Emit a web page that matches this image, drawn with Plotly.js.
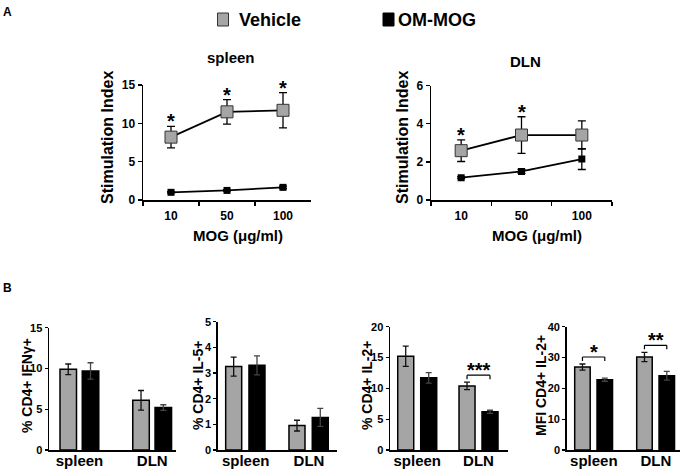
<!DOCTYPE html>
<html><head><meta charset="utf-8">
<script src="https://cdn.plot.ly/plotly-3.0.1.min.js"></script>
<style>html,body{margin:0;padding:0;background:#fff}#chart{width:683px;height:470px}</style>
</head><body><div id="chart"></div>
<script>
// ---------- data ----------
const doses = ['10', '50', '100'];
const spleenVehicle = [8.2, 11.5, 11.7];
const spleenVehicleErr = [1.4, 1.6, 2.3];
const spleenOM = [1.0, 1.25, 1.65];
const spleenOMErr = [0.1, 0.1, 0.15];
const spleenSig = ['*', '*', '*'];
const dlnVehicle = [2.59, 3.41, 3.41];
const dlnVehicleErr = [0.57, 0.96, 0.74];
const dlnOM = [1.17, 1.5, 2.15];
const dlnOMErr = [0.05, 0.1, 0.55];
const dlnSig = ['*', '*', ''];

const tissues = ['spleen', 'DLN'];
const ifngVehicle = [9.9, 6.1];
const ifngVehicleErr = [0.65, 1.2];
const ifngOM = [9.7, 5.2];
const ifngOMErr = [1.0, 0.35];
const ifngSig = ['', ''];
const il5Vehicle = [3.25, 0.95];
const il5VehicleErr = [0.37, 0.21];
const il5OM = [3.3, 1.27];
const il5OMErr = [0.37, 0.35];
const il5Sig = ['', ''];
const il2Vehicle = [15.2, 10.4];
const il2VehicleErr = [1.65, 0.6];
const il2OM = [11.7, 6.2];
const il2OMErr = [0.85, 0.25];
const il2Sig = ['', '***'];
const mfiVehicle = [26.9, 30.2];
const mfiVehicleErr = [1.0, 1.5];
const mfiOM = [22.8, 24.1];
const mfiOMErr = [0.5, 1.4];
const mfiSig = ['*', '**'];

const seriesNames = ['Vehicle', 'OM-MOG'];
const lineTitles = ['spleen', 'DLN'];
const lineYTitle = 'Stimulation Index';
const lineXTitle = 'MOG (μg/ml)';
const barYTitles = ['% CD4+ IFNγ+', '% CD4+ IL-5+', '% CD4+ IL-2+', 'MFI CD4+ IL-2+'];
const panelLetters = ['A', 'B'];

// ---------- styling / layout helpers ----------
const W = 683, H = 470;
const px = x => x / W, py = y => 1 - y / H;
const FONT = 'Liberation Sans, Arial, sans-serif';
const GREY = '#a5a5a5';
const BLACK = '#000';

const traces = [];
const annotations = [];
const shapes = [];
const layout = {
  width: W, height: H, margin: {l: 0, r: 0, t: 0, b: 0},
  paper_bgcolor: '#fff', plot_bgcolor: 'rgba(0,0,0,0)',
  showlegend: false, barmode: 'overlay', hovermode: false,
  font: {family: FONT, color: BLACK},
  annotations, shapes
};

function bold(t) { return '<b>' + t + '</b>'; }

// ---------- top line panels ----------
const linePanels = [
  {veh: spleenVehicle, vehErr: spleenVehicleErr, om: spleenOM, omErr: spleenOMErr, sig: spleenSig,
   xd: [143, 311], yd: [200, 85], range: [0, 15], dtick: 5, title: lineTitles[0], titleY: 58,
   yTitleX: 107, xTitleX: 238},
  {veh: dlnVehicle, vehErr: dlnVehicleErr, om: dlnOM, omErr: dlnOMErr, sig: dlnSig,
   xd: [431, 612], yd: [200, 85.7], range: [0, 6], dtick: 2, title: lineTitles[1], titleY: 61,
   yTitleX: 402, xTitleX: 537}
];
linePanels.forEach((p, i) => {
  const n = i + 1, xa = 'x' + (n === 1 ? '' : n), ya = 'y' + (n === 1 ? '' : n);
  const errStyle = {type: 'data', visible: true, color: BLACK, thickness: 1.3, width: 4};
  traces.push({type: 'scatter', mode: 'lines+markers', x: doses, y: p.om, xaxis: xa, yaxis: ya,
    error_y: Object.assign({array: p.omErr}, errStyle),
    line: {color: BLACK, width: 1.8}, marker: {symbol: 'square', size: 7, color: BLACK}, name: seriesNames[1]});
  traces.push({type: 'scatter', mode: 'lines+markers', x: doses, y: p.veh, xaxis: xa, yaxis: ya,
    error_y: Object.assign({array: p.vehErr}, errStyle),
    line: {color: BLACK, width: 1.8}, marker: {symbol: 'square', size: 12, color: GREY, line: {color: '#333', width: 1}}, name: seriesNames[0]});
  layout['xaxis' + (n === 1 ? '' : n)] = {
    domain: [px(p.xd[0]), px(p.xd[1])], anchor: ya, type: 'category', range: [-0.5, 2.5],
    showline: true, linecolor: BLACK, linewidth: 1.5, ticks: 'outside', tickson: 'boundaries',
    ticklen: 4, tickwidth: 1.3, tickcolor: BLACK, showgrid: false, zeroline: false, ticklabelstandoff: 4,
    tickfont: {family: FONT, size: 12, color: BLACK, weight: 'bold'}
  };
  layout['yaxis' + (n === 1 ? '' : n)] = {
    domain: [py(p.yd[0]), py(p.yd[1])], anchor: xa, range: p.range, dtick: p.dtick,
    showline: true, linecolor: BLACK, linewidth: 1.5, ticks: 'outside', ticklen: 4, tickwidth: 1.3,
    tickcolor: BLACK, showgrid: false, zeroline: false,
    tickfont: {family: FONT, size: 12, color: BLACK, weight: 'bold'}
  };
  p.sig.forEach((s, k) => {
    if (!s) return;
    annotations.push({xref: xa, yref: ya, x: k, y: p.veh[k] + p.vehErr[k], text: bold(s),
      showarrow: false, yanchor: 'middle', yshift: 5, font: {size: 20, family: FONT}});
  });
  annotations.push({xref: 'paper', yref: 'paper', x: px((p.xd[0] + p.xd[1]) / 2 + 4), y: py(p.titleY),
    text: bold(p.title), showarrow: false, xanchor: 'center', yanchor: 'middle', font: {size: 15, family: FONT}});
  annotations.push({xref: 'paper', yref: 'paper', x: px(p.yTitleX), y: py(138), text: bold(lineYTitle),
    textangle: -90, showarrow: false, xanchor: 'center', yanchor: 'middle', font: {size: 16, family: FONT}});
  annotations.push({xref: 'paper', yref: 'paper', x: px(p.xTitleX), y: py(236), text: bold(lineXTitle),
    showarrow: false, xanchor: 'center', yanchor: 'middle', font: {size: 15, family: FONT}});
});

// ---------- bottom bar panels ----------
const barPanels = [
  {veh: ifngVehicle, vehErr: ifngVehicleErr, om: ifngOM, omErr: ifngOMErr, sig: ifngSig,
   xd: [49, 176], ytop: 327.7, range: [0, 15], dtick: 5, xr: [-0.419, 1.326], w: 0.227, vo: -0.268, oo: 0.038, titleX: 27},
  {veh: il5Vehicle, vehErr: il5VehicleErr, om: il5OM, omErr: il5OMErr, sig: il5Sig,
   xd: [217.7, 336.7], ytop: 321.7, range: [0, 5], dtick: 1, xr: [-0.442, 1.438], w: 0.253, vo: -0.316, oo: 0.052, titleX: 198},
  {veh: il2Vehicle, vehErr: il2VehicleErr, om: il2OM, omErr: il2OMErr, sig: il2Sig,
   xd: [390, 508], ytop: 326.7, range: [0, 20], dtick: 5, xr: [-0.444, 1.481], w: 0.261, vo: -0.318, oo: 0.057, titleX: 367},
  {veh: mfiVehicle, vehErr: mfiVehicleErr, om: mfiOM, omErr: mfiOMErr, sig: mfiSig,
   xd: [566.7, 680], ytop: 326.7, range: [0, 40], dtick: 10, xr: [-0.437, 1.39], w: 0.25, vo: -0.308, oo: 0.052, titleX: 541}
];
barPanels.forEach((p, i) => {
  const n = i + 3, xa = 'x' + n, ya = 'y' + n;
  const errStyle = {type: 'data', visible: true, color: '#111', thickness: 1.3, width: 3};
  traces.push({type: 'bar', x: tissues, y: p.veh, xaxis: xa, yaxis: ya, width: p.w, offset: p.vo,
    marker: {color: GREY, line: {color: BLACK, width: 1.5}}, error_y: Object.assign({array: p.vehErr}, errStyle), name: seriesNames[0]});
  traces.push({type: 'bar', x: tissues, y: p.om, xaxis: xa, yaxis: ya, width: p.w, offset: p.oo,
    marker: {color: BLACK, line: {color: BLACK, width: 1.5}}, error_y: Object.assign({array: p.omErr}, errStyle, {color: '#444'}), name: seriesNames[1]});
  layout['xaxis' + n] = {
    domain: [px(p.xd[0]), px(p.xd[1])], anchor: ya, type: 'category', range: p.xr,
    showline: true, linecolor: BLACK, linewidth: 1.5, ticks: '', showgrid: false, zeroline: false,
    ticklabelstandoff: -4,
    tickfont: {family: FONT, size: 15, color: BLACK, weight: 'bold'}
  };
  layout['yaxis' + n] = {
    domain: [py(450), py(p.ytop)], anchor: xa, range: p.range, dtick: p.dtick,
    showline: true, linecolor: BLACK, linewidth: 1.5, ticks: 'outside', ticklen: 3, tickwidth: 1.3,
    tickcolor: BLACK, showgrid: false, zeroline: false,
    tickfont: {family: FONT, size: 11, color: BLACK, weight: 'bold'}
  };
  annotations.push({xref: 'paper', yref: 'paper', x: px(p.titleX), y: py(386), text: bold(barYTitles[i]),
    textangle: -90, showarrow: false, xanchor: 'center', yanchor: 'middle', font: {size: 14, family: FONT}});
  p.sig.forEach((s, k) => {
    if (!s) return;
    const top = Math.max(p.veh[k] + p.vehErr[k], p.om[k] + p.omErr[k]);
    const xl = k + p.vo + p.w / 2, xr = k + p.oo + p.w / 2;
    const base = {type: 'line', xref: xa, yref: ya, ysizemode: 'pixel', yanchor: top, line: {color: BLACK, width: 1.2}};
    shapes.push(Object.assign({}, base, {x0: xl, x1: xr, y0: 7, y1: 7}));
    shapes.push(Object.assign({}, base, {x0: xl, x1: xl, y0: 3, y1: 7}));
    shapes.push(Object.assign({}, base, {x0: xr, x1: xr, y0: 3, y1: 7}));
    annotations.push({xref: xa, yref: ya, x: (xl + xr) / 2, y: top, text: bold(s), showarrow: false,
      yanchor: 'middle', yshift: 12, font: {size: 20, family: FONT}});
  });
});

// ---------- legend & panel letters ----------
shapes.push({type: 'rect', xref: 'paper', yref: 'paper', x0: px(217.5), x1: px(228.5), y0: py(26), y1: py(13),
  fillcolor: GREY, line: {color: '#333', width: 1}});
shapes.push({type: 'rect', xref: 'paper', yref: 'paper', x0: px(383), x1: px(394), y0: py(26), y1: py(13),
  fillcolor: BLACK, line: {color: BLACK, width: 1}});
annotations.push({xref: 'paper', yref: 'paper', x: px(237), y: py(19.5), text: bold(seriesNames[0]),
  showarrow: false, xanchor: 'left', yanchor: 'middle', font: {size: 18, family: FONT}});
annotations.push({xref: 'paper', yref: 'paper', x: px(396), y: py(19.5), text: bold(seriesNames[1]),
  showarrow: false, xanchor: 'left', yanchor: 'middle', font: {size: 18, family: FONT}});
annotations.push({xref: 'paper', yref: 'paper', x: px(1), y: py(12), text: bold(panelLetters[0]),
  showarrow: false, xanchor: 'left', yanchor: 'middle', font: {size: 12, family: FONT}});
annotations.push({xref: 'paper', yref: 'paper', x: px(1), y: py(288), text: bold(panelLetters[1]),
  showarrow: false, xanchor: 'left', yanchor: 'middle', font: {size: 12, family: FONT}});

Plotly.newPlot('chart', traces, layout, {staticPlot: true, displayModeBar: false});
</script></body></html>
